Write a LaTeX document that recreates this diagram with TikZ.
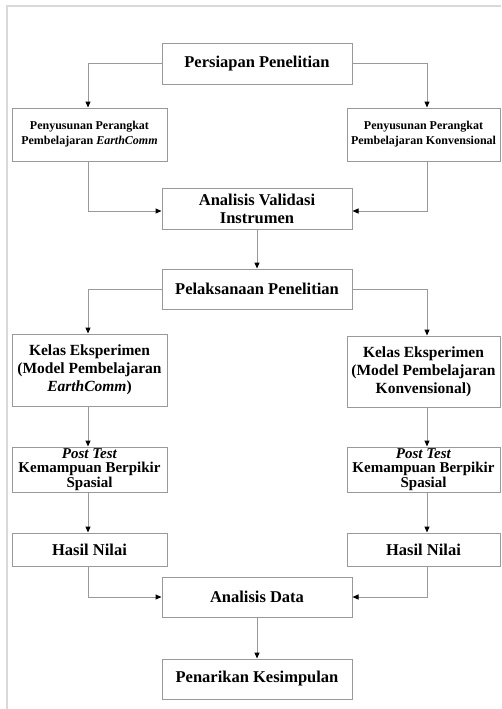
\documentclass[tikz,border=0pt]{standalone}
\usepackage{fontspec}
\setmainfont{Liberation Serif}
\usetikzlibrary{arrows.meta}
\begin{document}
\begin{tikzpicture}[x=1pt,y=-1pt,
  box/.style={draw=black!40, line width=1pt, minimum width=190pt, minimum height=40pt,
    inner sep=0pt, align=center, font=\bfseries\fontsize{16.5}{18}\selectfont},
  lbox/.style={box, minimum width=155pt},
  rbox/.style={box, minimum width=153pt},
  small/.style={font=\bfseries\fontsize{12}{15}\selectfont},
  mid/.style={font=\bfseries\fontsize{15.5}{18}\selectfont},
  tight/.style={font=\bfseries\fontsize{15}{14.5}\selectfont},
  conn/.style={draw=black!40, line width=1pt, -{Triangle[length=6pt,width=5pt,color=black]}},
  frame/.style={draw=black!15, line width=1.5pt}]
\useasboundingbox (0,0) rectangle (501,709);
\draw[frame] (7,709) -- (7,6) -- (501,6);

\coordinate (lx) at (88,0);
\coordinate (rx) at (427,0);

\node[box] (pers) at (257,64) {Persiapan Penelitian};
\node[lbox, small, minimum height=53pt] (penyL) at (89.5,134.5) {Penyusunan Perangkat\\Pembelajaran \textit{EarthComm}};
\node[rbox, small, minimum height=53pt] (penyR) at (423.5,134.5) {Penyusunan Perangkat\\Pembelajaran Konvensional};
\node[box, minimum height=41pt] (valid) at (257,208.5) {Analisis Validasi\\Instrumen};
\node[box] (pelak) at (257,289) {Pelaksanaan Penelitian};
\node[lbox, mid, minimum height=72pt] (kelasL) at (89.5,370) {Kelas Eksperimen\\(Model Pembelajaran\\\textit{EarthComm})};
\node[rbox, mid, minimum height=71pt] (kelasR) at (423.5,371.5) {Kelas Eksperimen\\(Model Pembelajaran\\Konvensional)};
\node[lbox, tight, minimum height=45pt] (postL) at (89.5,469.5) {\textit{Post Test}\\Kemampuan Berpikir\\Spasial};
\node[rbox, tight, minimum height=45pt] (postR) at (423.5,469.5) {\textit{Post Test}\\Kemampuan Berpikir\\Spasial};
\node[lbox, minimum height=33pt] (hasilL) at (89.5,549.5) {Hasil Nilai};
\node[rbox, minimum height=33pt] (hasilR) at (423.5,549.5) {Hasil Nilai};
\node[box] (data) at (257,597) {Analisis Data};
\node[box] (tarik) at (257,679) {Penarikan Kesimpulan};

\draw[conn] (pers.west) -| (lx |- penyL.north);
\draw[conn] (pers.east) -| (rx |- penyR.north);
\draw[conn] (lx |- penyL.south) |- ([yshift=-2.5pt]valid.west);
\draw[conn] (rx |- penyR.south) |- ([yshift=-2.5pt]valid.east);
\draw[conn] (valid.south) -- (pelak.north);
\draw[conn] (pelak.west) -| (lx |- kelasL.north);
\draw[conn] (pelak.east) -| (rx |- kelasR.north);
\draw[conn] (lx |- kelasL.south) -- (lx |- postL.north);
\draw[conn] (rx |- kelasR.south) -- (rx |- postR.north);
\draw[conn] (lx |- postL.south) -- (lx |- hasilL.north);
\draw[conn] (rx |- postR.south) -- (rx |- hasilR.north);
\draw[conn] (lx |- hasilL.south) |- (data.west);
\draw[conn] (rx |- hasilR.south) |- (data.east);
\draw[conn] (data.south) -- (tarik.north);
\end{tikzpicture}
\end{document}
